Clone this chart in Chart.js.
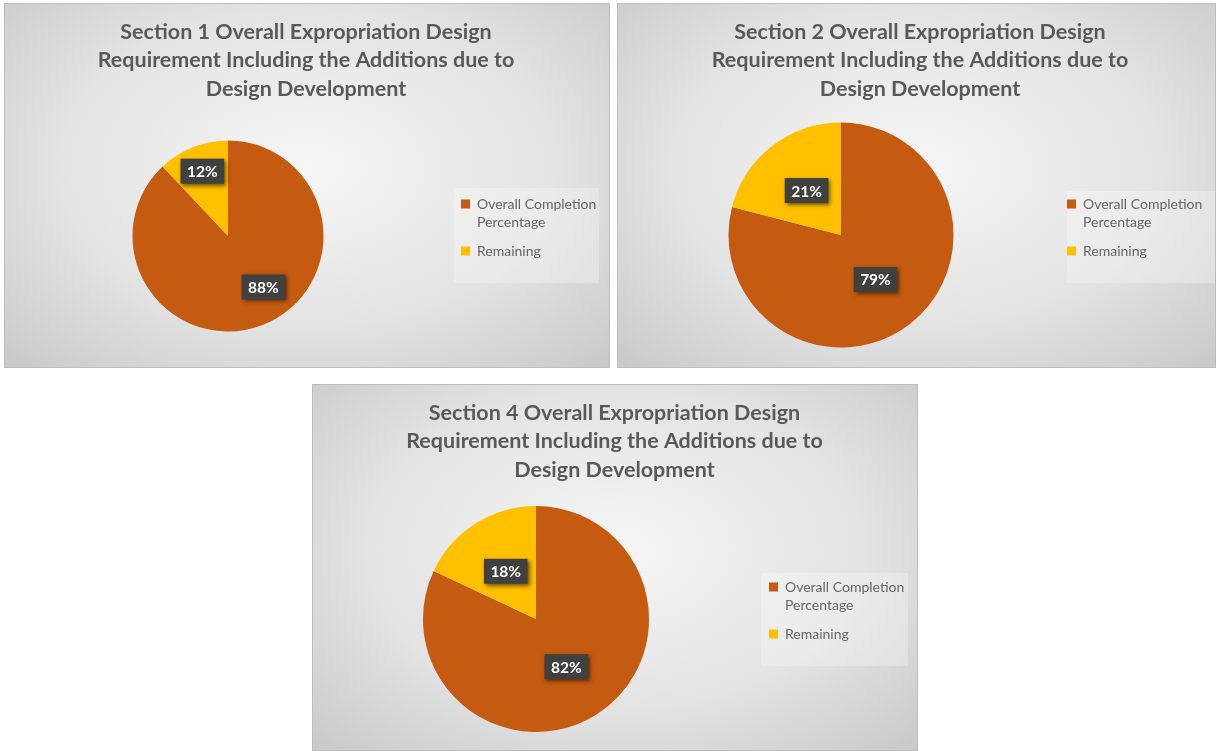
<!DOCTYPE html>
<html>
<head>
<meta charset="utf-8">
<script src="https://cdn.jsdelivr.net/npm/chart.js@4.4.1/dist/chart.umd.min.js"></script>
<style>
    body { margin: 0; background: #ffffff; width: 1216px; height: 751px; position: relative; overflow: hidden; }
    .panel {
        position: absolute;
        box-sizing: border-box;
        border: 1px solid #bdbdbd;
        background: radial-gradient(ellipse 75% 80% at 50% 45%, #f6f6f6 0%, #e3e3e3 55%, #c6c6c6 100%);
    }
    .panel canvas { display: block; }
</style>
</head>
<body>
<div class="panel" style="left:4px; top:3px; width:606px; height:365px;"><canvas id="chartSection1"></canvas></div>
<div class="panel" style="left:617px; top:3px; width:599px; height:365px;"><canvas id="chartSection2"></canvas></div>
<div class="panel" style="left:312px; top:384px; width:606px; height:367px;"><canvas id="chartSection4"></canvas></div>

<script>
// data
const categories = ["Overall Completion Percentage", "Remaining"];
const section1Values = [88, 12];
const section2Values = [79, 21];
const section4Values = [82, 18];
const section1Title = ["Section 1 Overall Expropriation Design", "Requirement Including the Additions due to", "Design Development"];
const section2Title = ["Section 2 Overall Expropriation Design", "Requirement Including the Additions due to", "Design Development"];
const section4Title = ["Section 4 Overall Expropriation Design", "Requirement Including the Additions due to", "Design Development"];
const sliceColors = ["#C55A11", "#FFC000"];

const FONT = "Lato, 'Open Sans', sans-serif";

// wrap long legend names onto two lines, like Excel does
function wrapLabel(text, maxChars) {
    const words = text.split(" ");
    const lines = [];
    let cur = "";
    words.forEach(function (w) {
        if (cur && (cur + " " + w).length > maxChars) {
            lines.push(cur);
            cur = w;
        } else {
            cur = cur ? cur + " " + w : w;
        }
    });
    if (cur) lines.push(cur);
    return lines;
}

// dark percentage boxes on the slices
const valueBoxes = {
    id: "valueBoxes",
    afterDatasetsDraw(chart, args, opts) {
        const ctx = chart.ctx;
        const meta = chart.getDatasetMeta(0);
        const values = chart.data.datasets[0].data;
        ctx.save();
        ctx.font = "bold 15.5px " + FONT;
        meta.data.forEach(function (arc, i) {
            const p = arc.getProps(["x", "y", "startAngle", "endAngle", "outerRadius"], true);
            const mid = (p.startAngle + p.endAngle) / 2 + (opts.turn ? opts.turn[i] : 0);
            const k = opts.ratios[i];
            const cx = p.x + Math.cos(mid) * p.outerRadius * k;
            const cy = p.y + Math.sin(mid) * p.outerRadius * k;
            const txt = values[i] + "%";
            const w = ctx.measureText(txt).width + 13;
            const h = 25;
            ctx.shadowColor = "rgba(0,0,0,0.55)";
            ctx.shadowBlur = 4;
            ctx.shadowOffsetX = 2;
            ctx.shadowOffsetY = 2;
            ctx.fillStyle = "#404040";
            ctx.fillRect(cx - w / 2, cy - h / 2, w, h);
            ctx.shadowColor = "transparent";
            ctx.fillStyle = "#ffffff";
            ctx.textAlign = "center";
            ctx.textBaseline = "middle";
            ctx.fillText(txt, cx, cy + 1);
        });
        ctx.restore();
    },
};

// light box behind the legend
const legendPanel = {
    id: "legendPanel",
    beforeDraw(chart, args, opts) {
        const ctx = chart.ctx;
        ctx.save();
        ctx.fillStyle = "rgba(255,255,255,0.28)";
        ctx.fillRect(opts.x, opts.y, opts.w, opts.h);
        ctx.restore();
    },
};

function makePie(id, values, title, lay) {
    new Chart(document.getElementById(id), {
        type: "pie",
        data: {
            labels: categories,
            datasets: [
                {
                    data: values,
                    backgroundColor: sliceColors,
                    borderWidth: 0,
                    hoverOffset: 0,
                },
            ],
        },
        options: {
            responsive: true,
            maintainAspectRatio: false,
            animation: false,
            events: [],
            layout: {
                padding: { left: lay.left, right: lay.right, top: 0, bottom: lay.bottom },
            },
            plugins: {
                title: {
                    display: true,
                    text: title,
                    color: "#595959",
                    font: { family: FONT, size: 21.5, weight: "bold", lineHeight: 28.5 / 21.5 },
                    padding: { top: 13.75, bottom: lay.titleGap },
                },
                legend: {
                    position: "right",
                    align: "start",
                    maxWidth: lay.legendWidth,
                    title: {
                        display: true,
                        text: "",
                        font: { size: 10, lineHeight: 1 },
                        padding: { top: lay.legendTop - 10, bottom: 0 },
                    },
                    labels: {
                        color: "#595959",
                        font: { family: FONT, size: 14, lineHeight: 18.5 / 14 },
                        boxWidth: 9,
                        boxHeight: 9,
                        padding: 10,
                        generateLabels: function (chart) {
                            const ds = chart.data.datasets[0];
                            return chart.data.labels.map(function (name, i) {
                                const lines = wrapLabel(name, 19);
                                // trailing spaces keep the legend column at its full width
                                lines[0] = lines[0] + "                    ";
                                return {
                                    text: lines,
                                    fillStyle: ds.backgroundColor[i],
                                    strokeStyle: ds.backgroundColor[i],
                                    lineWidth: 0,
                                    hidden: false,
                                    index: i,
                                };
                            });
                        },
                    },
                },
                tooltip: { enabled: false },
                valueBoxes: { ratios: lay.ratios, turn: lay.turn },
                legendPanel: lay.box,
            },
        },
        plugins: [valueBoxes, legendPanel],
    });
}

document.addEventListener("DOMContentLoaded", function () {
    makePie("chartSection1", section1Values, section1Title, {
        left: 0, right: 2, bottom: 35.5, titleGap: 37.25,
        legendWidth: 156, legendTop: 183, ratios: [0.65, 0.73], turn: [-0.23, 0],
        box: { x: 449, y: 184, w: 145, h: 95 },
    });
    makePie("chartSection2", section2Values, section2Title, {
        left: 7, right: 0, bottom: 19.5, titleGap: 19.25,
        legendWidth: 158, legendTop: 183, ratios: [0.5, 0.5],
        box: { x: 449, y: 187, w: 148, h: 92 },
    });
    makePie("chartSection4", section4Values, section4Title, {
        left: 0, right: 1, bottom: 18, titleGap: 21.75,
        legendWidth: 157, legendTop: 185, ratios: [0.5, 0.5],
        box: { x: 448, y: 188, w: 147, h: 93 },
    });
});
</script>
</body>
</html>
